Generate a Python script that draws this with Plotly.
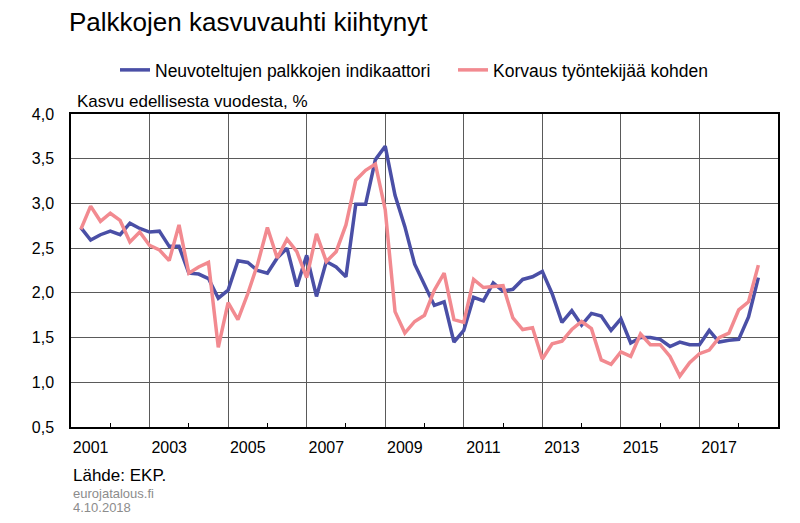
import plotly.graph_objects as go

# Quarterly data, 2001Q1 .. 2018Q2 (points plotted at quarter end)
start_year = 2001
neuvotellut = [2.73, 2.59, 2.65, 2.69, 2.65, 2.78, 2.72, 2.68, 2.69, 2.52,
               2.52, 2.22, 2.21, 2.16, 1.94, 2.03, 2.36, 2.34, 2.25, 2.22,
               2.39, 2.50, 2.07, 2.42, 1.96, 2.35, 2.29, 2.18, 2.99, 2.99,
               3.49, 3.64, 3.09, 2.74, 2.32, 2.10, 1.86, 1.90, 1.45, 1.58,
               1.95, 1.91, 2.11, 2.02, 2.04, 2.15, 2.18, 2.24, 1.99, 1.67,
               1.80, 1.64, 1.77, 1.74, 1.58, 1.71, 1.44, 1.50, 1.50, 1.48,
               1.40, 1.45, 1.42, 1.42, 1.58, 1.45, 1.47, 1.48, 1.73, 2.17]
korvaus = [2.71, 2.97, 2.80, 2.89, 2.81, 2.57, 2.68, 2.53, 2.48, 2.36,
           2.76, 2.22, 2.29, 2.34, 1.39, 1.89, 1.70, 1.99, 2.32, 2.73,
           2.39, 2.60, 2.46, 2.17, 2.66, 2.35, 2.46, 2.76, 3.26, 3.37,
           3.44, 2.93, 1.79, 1.55, 1.68, 1.75, 2.03, 2.22, 1.70, 1.67,
           2.15, 2.06, 2.07, 2.08, 1.72, 1.59, 1.61, 1.26, 1.43, 1.46,
           1.59, 1.68, 1.60, 1.25, 1.20, 1.34, 1.29, 1.54, 1.42, 1.42,
           1.29, 1.07, 1.22, 1.32, 1.36, 1.50, 1.55, 1.81, 1.90, 2.31]
x_vals = [start_year + 0.25 * (i + 1) for i in range(len(neuvotellut))]

label_years = [2001, 2003, 2005, 2007, 2009, 2011, 2013, 2015, 2017]
label_pos = [y + 0.5 for y in label_years]
label_text = [str(y) for y in label_years]

FONT = "Liberation Sans, Arial, sans-serif"
BLUE = "#4a4fa6"
PINK = "#f28a90"
GRID = "#5a5a5a"

fig = go.Figure()
fig.add_trace(go.Scatter(x=x_vals, y=neuvotellut, mode="lines",
                         name="Neuvoteltujen palkkojen indikaattori",
                         line=dict(color=BLUE, width=3.5)))
fig.add_trace(go.Scatter(x=x_vals, y=korvaus, mode="lines",
                         name="Korvaus työntekijää kohden",
                         line=dict(color=PINK, width=3.5)))
# empty trace to anchor grid axis
fig.add_trace(go.Scatter(x=[], y=[], xaxis="x2", showlegend=False, hoverinfo="skip"))

fig.update_layout(
    width=800, height=523,
    margin=dict(l=71, r=22, t=114, b=96, autoexpand=False),
    paper_bgcolor="white", plot_bgcolor="white",
    separators=", ",
    font=dict(family=FONT, size=16, color="black"),
    title=dict(text="Palkkojen kasvuvauhti kiihtynyt", x=69/800, xanchor="left",
               y=1 - 22/523, yanchor="middle",
               font=dict(family=FONT, size=26, color="black")),
    legend=dict(orientation="h", x=(115 - 71) / 707, xanchor="left", y=1 - 70/523,
                yanchor="middle", yref="container",
                font=dict(family=FONT, size=17.5, color="black"),
                itemwidth=30, entrywidth=293, entrywidthmode="pixels",
                tracegroupgap=0, bgcolor="rgba(0,0,0,0)"),
    xaxis=dict(range=[2001, 2019], tickmode="array", tickvals=label_pos,
               ticktext=label_text, ticks="", showgrid=False, zeroline=False,
               ticklabelstandoff=5,
               showline=True, linecolor="black", linewidth=1.5, mirror=True,
               tickfont=dict(size=16, color="black")),
    xaxis2=dict(range=[2001, 2019], overlaying="x", tick0=2001, dtick=2,
                showgrid=True, gridcolor=GRID, gridwidth=1, ticks="",
                showticklabels=False, zeroline=False, showline=False,
                minor=dict(tick0=2001, dtick=1, ticks="inside", ticklen=4,
                           tickcolor="black", tickwidth=1, showgrid=False)),
    yaxis=dict(range=[0.5, 4.0], dtick=0.5, tick0=0.5, tickformat=".1f",
               showgrid=True, gridcolor=GRID, gridwidth=1, zeroline=False,
               ticks="", ticklabelstandoff=12,
               showline=True, linecolor="black", linewidth=1.5, mirror=True,
               tickfont=dict(size=16, color="black")),
    showlegend=True,
)

fig.add_annotation(text="Kasvu edellisesta vuodesta, %", xref="paper", yref="paper",
                   x=0, xshift=4, y=1.0, xanchor="left", yanchor="bottom",
                   yshift=1, showarrow=False, font=dict(size=17, color="black"))
fig.add_annotation(text="Lähde: EKP.", xref="paper", yref="paper", x=0, xshift=0,
                   y=-(475 - 427) / 313, yanchor="middle", xanchor="left",
                   showarrow=False, font=dict(size=17, color="black"))
fig.add_annotation(text="eurojatalous.fi", xref="paper", yref="paper", x=0, xshift=0,
                   y=-(493 - 427) / 313, yanchor="middle", xanchor="left",
                   showarrow=False, font=dict(size=13, color="#8c8c8c"))
fig.add_annotation(text="4.10.2018", xref="paper", yref="paper", x=0, xshift=0,
                   y=-(507 - 427) / 313, yanchor="middle", xanchor="left",
                   showarrow=False, font=dict(size=13, color="#8c8c8c"))

fig.write_html("out.html", config={"displayModeBar": False},
               post_script="document.body.style.margin='0';")
